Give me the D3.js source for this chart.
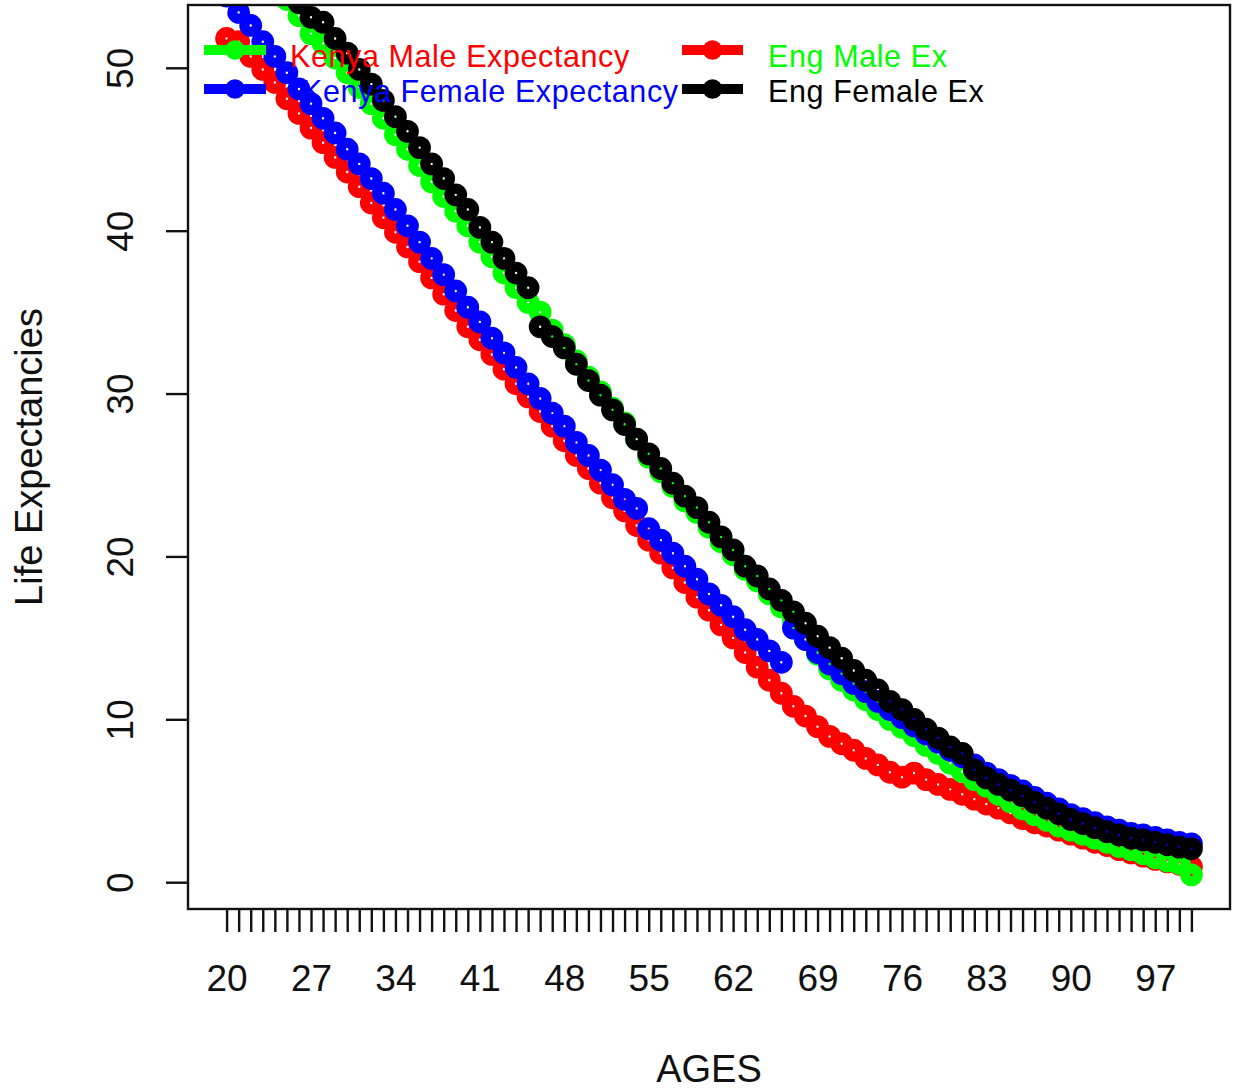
<!DOCTYPE html>
<html>
<head>
<meta charset="utf-8">
<script src="https://cdn.jsdelivr.net/npm/d3@7"></script>
<style>
  body { margin: 0; background: #fff; }
  svg { display: block; font-family: "Liberation Sans", Arial, sans-serif; }
</style>
</head>
<body>
<div id="chart"></div>
<script>
// data (ages 20..100)
var ages = [20,21,22,23,24,25,26,27,28,29,30,31,32,33,34,35,36,37,38,39,
            40,41,42,43,44,45,46,47,48,49,50,51,52,53,54,55,56,57,58,59,
            60,61,62,63,64,65,66,67,68,69,70,71,72,73,74,75,76,77,78,79,
            80,81,82,83,84,85,86,87,88,89,90,91,92,93,94,95,96,97,98,99,100];

var kenyaMale = [51.8,51.6,50.7,49.9,49.1,48.1,47.2,46.3,45.4,44.5,
                 43.6,42.7,41.7,40.8,39.9,39.0,38.1,37.1,36.1,35.1,
                 34.1,33.3,32.4,31.5,30.6,29.8,28.9,28.0,27.1,26.2,
                 25.4,24.5,23.6,22.8,21.9,21.0,20.2,19.3,18.4,17.5,
                 16.7,15.8,15.0,14.1,13.2,12.4,11.6,10.8,10.2,9.55,
                 8.95,8.5,8.1,7.6,7.2,6.75,6.45,6.7,6.3,6.0,
                 5.7,5.4,5.1,4.8,4.55,4.25,3.9,3.65,3.45,3.2,
                 2.95,2.7,2.45,2.25,2.0,1.8,1.6,1.4,1.25,1.1,0.95];

var engMale = [58.9,57.9,57.0,56.0,55.1,54.2,53.2,52.1,51.5,50.6,
               49.7,48.8,47.8,46.9,45.9,45.0,44.0,43.0,42.1,41.2,
               40.3,39.3,38.4,37.4,36.5,35.6,35.0,33.9,33.0,32.0,
               31.0,30.1,29.1,28.2,27.2,26.1,25.2,24.3,23.4,22.7,
               21.8,20.9,20.1,19.2,18.5,17.7,16.9,16.0,14.9,14.0,
               13.1,12.4,11.8,11.2,10.6,10.0,9.5,9.0,8.4,7.9,
               7.3,6.8,6.3,5.9,5.4,4.95,4.5,4.15,3.8,3.45,
               3.2,2.95,2.7,2.45,2.2,2.0,1.75,1.5,1.3,1.15,0.45];

var kenyaFemale = [54.4,53.4,52.6,51.6,50.7,49.7,48.7,47.8,46.9,46.0,
                   45.0,44.1,43.2,42.3,41.3,40.3,39.3,38.3,37.3,36.3,
                   35.3,34.4,33.4,32.5,31.6,30.6,29.7,28.8,28.0,27.0,
                   26.2,25.3,24.4,23.5,22.95,21.7,21.0,20.2,19.4,18.6,
                   17.7,17.0,16.3,15.5,14.9,14.2,13.5,15.6,14.9,14.1,
                   13.4,12.8,12.2,11.7,11.1,10.6,10.1,9.6,9.1,8.6,
                   8.1,7.7,7.2,6.7,6.3,5.95,5.6,5.2,4.85,4.5,
                   4.15,3.9,3.65,3.4,3.2,3.0,2.9,2.75,2.6,2.45,2.35];

var engFemale = [59.4,58.5,57.6,56.7,55.8,54.9,54.0,53.1,52.8,51.8,
                 50.9,49.9,49.0,48.0,47.0,46.1,45.1,44.1,43.2,42.2,
                 41.3,40.2,39.3,38.3,37.4,36.5,34.1,33.5,32.8,31.8,
                 30.8,29.9,29.0,28.1,27.2,26.3,25.4,24.5,23.7,23.0,
                 22.1,21.2,20.4,19.4,18.8,18.0,17.3,16.6,15.9,15.1,
                 14.4,13.75,13.0,12.4,11.8,11.1,10.6,10.0,9.4,8.85,
                 8.3,7.9,6.9,6.4,6.0,5.65,5.3,4.9,4.55,4.2,
                 3.85,3.6,3.35,3.1,2.9,2.7,2.6,2.45,2.3,2.15,2.05];

var xTickLabels = [20,27,34,41,48,55,62,69,76,83,90,97];
var yTickValues = [0,10,20,30,40,50];

// drawing order as in the picture: red, green, blue, black
var series = [
    { values: kenyaMale,   color: "#ff0000" },
    { values: engMale,     color: "#00ff00" },
    { values: kenyaFemale, color: "#0000ff" },
    { values: engFemale,   color: "#000000" }
];

// legend: column-major, line colours differ from text colours
var legendItems = [
    { text: "Kenya Male Expectancy",   textColor: "#ff0000", symColor: "#00ff00", col: 0, row: 0, dx: 0 },
    { text: "Kenya Female Expectancy", textColor: "#0000ff", symColor: "#0000ff", col: 0, row: 1, dx: 12 },
    { text: "Eng Male Ex",             textColor: "#00ff00", symColor: "#ff0000", col: 1, row: 0, dx: 0 },
    { text: "Eng Female Ex",           textColor: "#000000", symColor: "#000000", col: 1, row: 1, dx: 0 }
];

var containerWidth = 1235,
    containerHeight = 1090,
    plot = { left: 188, right: 1230, top: 5, bottom: 909 };

// R style: data range padded by 4% on each side
var xExt = [20, 100], yExt = [0.41, 51.8];
var xPad = (xExt[1] - xExt[0]) * 0.04, yPad = (yExt[1] - yExt[0]) * 0.04;

var x = d3.scaleLinear()
    .domain([xExt[0] - xPad, xExt[1] + xPad])
    .range([plot.left, plot.right]);

var y = d3.scaleLinear()
    .domain([yExt[0] - yPad, yExt[1] + yPad])
    .range([plot.bottom, plot.top]);

var svg = d3.select("#chart")
    .append("svg")
    .attr("width", containerWidth)
    .attr("height", containerHeight);

svg.append("clipPath")
    .attr("id", "plotclip")
  .append("rect")
    .attr("x", plot.left)
    .attr("y", plot.top)
    .attr("width", plot.right - plot.left)
    .attr("height", plot.bottom - plot.top);

// points: thick open circles (pch = 1 with a heavy lwd)
var pointR = 6.3, pointW = 10.2;
var pointsHolder = svg.append("g").attr("clip-path", "url(#plotclip)");

series.forEach(function(s) {
    pointsHolder.append("g")
        .selectAll("circle")
        .data(s.values)
        .enter().append("circle")
        .attr("cx", function(d, i) { return x(ages[i]); })
        .attr("cy", function(d) { return y(d); })
        .attr("r", pointR)
        .attr("fill", "none")
        .attr("stroke", s.color)
        .attr("stroke-width", pointW);
});

// box
svg.append("rect")
    .attr("x", plot.left)
    .attr("y", plot.top)
    .attr("width", plot.right - plot.left)
    .attr("height", plot.bottom - plot.top)
    .attr("fill", "none")
    .attr("stroke", "#111")
    .attr("stroke-width", 2.4);

// x axis
var xAxis = svg.append("g")
    .attr("transform", "translate(0," + plot.bottom + ")")
    .call(d3.axisBottom(x)
        .tickValues(ages)
        .tickSize(23)
        .tickPadding(33)
        .tickFormat(function(d) { return xTickLabels.indexOf(d) >= 0 ? d : ""; }));

xAxis.select(".domain").remove();
xAxis.selectAll(".tick line").attr("stroke", "#111").attr("stroke-width", 2.4);
xAxis.selectAll(".tick text")
    .attr("font-size", 37)
    .attr("font-family", "'Liberation Sans', Arial, sans-serif")
    .attr("fill", "#111");

// y axis
var yAxis = svg.append("g")
    .attr("transform", "translate(" + plot.left + ",0)")
    .call(d3.axisLeft(y).tickValues(yTickValues).tickSize(22));

yAxis.select(".domain").remove();
yAxis.selectAll(".tick line").attr("stroke", "#111").attr("stroke-width", 2.4);
yAxis.selectAll(".tick text")
    .attr("transform", "rotate(-90)")
    .attr("x", 0)
    .attr("y", -55)
    .attr("dy", 0)
    .attr("text-anchor", "middle")
    .attr("font-size", 37)
    .attr("font-family", "'Liberation Sans', Arial, sans-serif")
    .attr("fill", "#111");

// axis titles
svg.append("text")
    .attr("x", (plot.left + plot.right) / 2)
    .attr("y", 1082)
    .attr("text-anchor", "middle")
    .attr("font-size", 38)
    .attr("fill", "#111")
    .text("AGES");

svg.append("text")
    .attr("transform", "translate(42," + (plot.top + plot.bottom) / 2 + ") rotate(-90)")
    .attr("text-anchor", "middle")
    .attr("font-size", 38)
    .attr("fill", "#111")
    .text("Life Expectancies");

// legend (no box)
var legendCols = [{ lineX: [204, 266], textX: 290 }, { lineX: [682, 743], textX: 768 }],
    legendRows = [{ symY: 50, textY: 67 }, { symY: 89, textY: 102 }];

var legend = svg.append("g").attr("class", "legend");

legendItems.forEach(function(item) {
    var c = legendCols[item.col], r = legendRows[item.row];
    var g = legend.append("g");
    g.append("circle")
        .attr("cx", (c.lineX[0] + c.lineX[1]) / 2)
        .attr("cy", r.symY)
        .attr("r", 5.4)
        .attr("fill", "none")
        .attr("stroke", item.symColor)
        .attr("stroke-width", 8.8);
    g.append("line")
        .attr("x1", c.lineX[0]).attr("x2", c.lineX[1])
        .attr("y1", r.symY).attr("y2", r.symY)
        .attr("stroke", item.symColor)
        .attr("stroke-width", 10);
    g.append("text")
        .attr("x", c.textX + item.dx)
        .attr("y", r.textY)
        .attr("font-size", 30.5)
        .attr("letter-spacing", 0.6)
        .attr("fill", item.textColor)
        .text(item.text);
});
</script>
</body>
</html>
